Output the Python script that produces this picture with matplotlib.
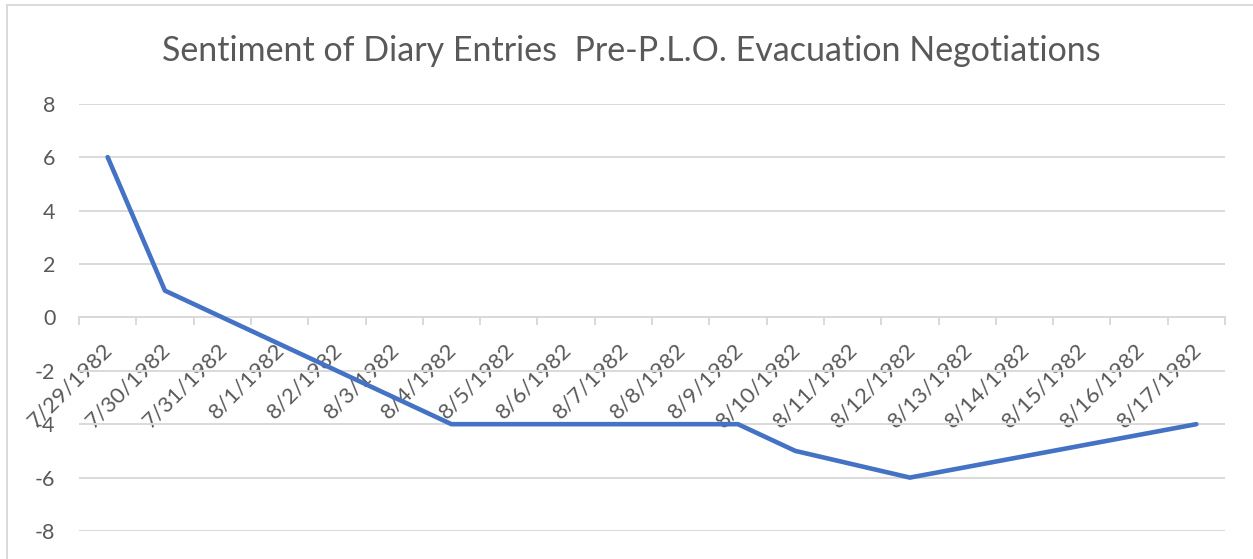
import matplotlib.pyplot as plt
import matplotlib.transforms as mtransforms
import numpy as np

dates = ['7/29/1982', '7/30/1982', '7/31/1982', '8/1/1982', '8/2/1982',
         '8/3/1982', '8/4/1982', '8/5/1982', '8/6/1982', '8/7/1982',
         '8/8/1982', '8/9/1982', '8/10/1982', '8/11/1982', '8/12/1982',
         '8/13/1982', '8/14/1982', '8/15/1982', '8/16/1982', '8/17/1982']
# nan = no diary entry that day (Excel connects the gap)
sentiment = [6, 1, np.nan, np.nan, np.nan,
             np.nan, -4, -4, -4, -4,
             -4, -4, -5, np.nan, -6,
             np.nan, np.nan, np.nan, np.nan, -4]
title = 'Sentiment of Diary Entries  Pre-P.L.O. Evacuation Negotiations'

plt.rcParams['font.family'] = ['Lato', 'DejaVu Sans']
plt.rcParams['axes.unicode_minus'] = False
text_col = '#595959'
grid_col = '#d9d9d9'

fig = plt.figure(figsize=(12.53, 5.59), dpi=100)
ax = fig.add_axes([79 / 1253, 1 - 531 / 559, (1225 - 79) / 1253, (531 - 103.7) / 559])

x = np.arange(len(dates))
y = np.array(sentiment, dtype=float)
ok = ~np.isnan(y)
ax.plot(x[ok], y[ok], color='#4472c4', lw=3.3, solid_capstyle='round',
        solid_joinstyle='round', zorder=3)

ax.set_xlim(-0.5, len(dates) - 0.5)
ax.set_ylim(-8, 8)
ax.set_yticks(np.arange(-8, 9, 2))
ax.grid(axis='y', color=grid_col, lw=1.4)
ax.set_axisbelow(True)
for s in ['top', 'right', 'left']:
    ax.spines[s].set_visible(False)
ax.spines['bottom'].set_position(('data', 0))
ax.spines['bottom'].set_color(grid_col)
ax.spines['bottom'].set_linewidth(1.4)
ax.spines['bottom'].set_zorder(1)

ax.tick_params(axis='y', length=0, pad=17, labelsize=15.5, labelcolor=text_col)
ax.set_xticks(x)
ax.set_xticklabels(dates)
ax.set_xticks(np.append(x - 0.5, x[-1] + 0.5), minor=True)
ax.tick_params(axis='x', which='major', length=0, pad=21, labelsize=16,
               labelcolor=text_col)
ax.tick_params(axis='x', which='minor', length=6, width=1.4, color=grid_col)
shift = mtransforms.ScaledTranslation(2 / 100, 0, fig.dpi_scale_trans)
for lbl in ax.get_xticklabels():
    lbl.set_rotation(45)
    lbl.set_ha('right')
    lbl.set_va('center')
    lbl.set_rotation_mode('anchor')
    lbl.set_transform(lbl.get_transform() + shift)

fig.text(0.504, 1 - 51 / 559, title, ha='center', va='center', fontsize=24.5,
         color=text_col)

# chart border
fig.patches.append(plt.Rectangle((7 / 1253, -0.05), 1.1, 1.05 - 5 / 559,
                                 transform=fig.transFigure, fill=False,
                                 edgecolor=grid_col, lw=1.4))

fig.savefig('out.png', dpi=100)
